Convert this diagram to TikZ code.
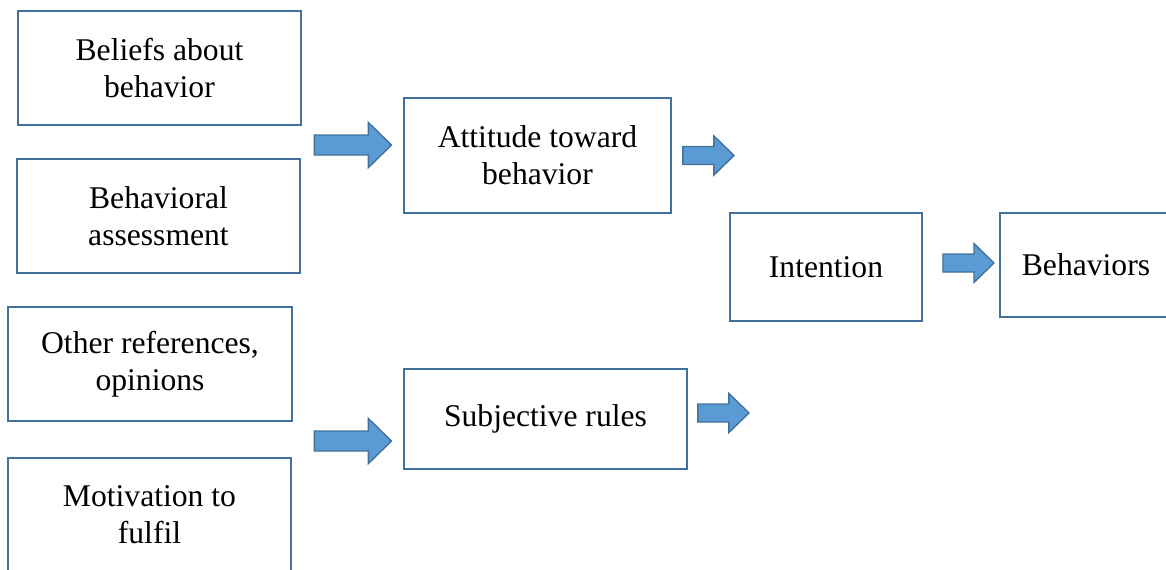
\documentclass[tikz,border=0pt]{standalone}
\usepackage{fontspec}
\setmainfont{Liberation Serif}
\usetikzlibrary{calc}
\definecolor{boxline}{RGB}{65,113,156}
\definecolor{arrowfill}{RGB}{91,155,213}

\begin{document}
\begin{tikzpicture}[x=0.02cm,y=-0.02cm,
  box/.style={draw=boxline,line width=1.1pt,align=center,inner sep=0pt,
    font=\fontsize{18}{21}\selectfont},
  pics/bigarrow/.style={code={
    \draw[boxline,fill=arrowfill,line width=0.8pt,line join=miter]
      (0,-10) -- (54,-10) -- (54,-22.5) -- (77,0) -- (54,22.5) -- (54,10) -- (0,10) -- cycle;}},
  pics/smallarrow/.style={code={
    \draw[boxline,fill=arrowfill,line width=0.8pt,line join=miter]
      (0,-9) -- (31,-9) -- (31,-19.5) -- (51,0) -- (31,19.5) -- (31,9) -- (0,9) -- cycle;}}]
%\tikzstyle{every node}=[fill=white]
  \useasboundingbox (0,0) rectangle (1166,569);
  \clip (0,0) rectangle (1166,569);

  \node[box,minimum width=5.66cm,minimum height=2.28cm] (beliefs)    at (159.5,68)  {Beliefs about\\behavior};
  \node[box,minimum width=5.66cm,minimum height=2.28cm] (assess)     at (158.5,216) {Behavioral\\assessment};
  \node[box,minimum width=5.68cm,minimum height=2.28cm] (others)     at (150,364)   {Other references,\\opinions};
  \node[box,minimum width=5.66cm,minimum height=2.28cm] (motiv)      at (149.5,515) {Motivation to\\fulfil};
  \node[box,minimum width=5.34cm,minimum height=2.30cm] (attitude)   at (537.5,155.5) {Attitude toward\\behavior};
  \node[box,minimum width=5.66cm,minimum height=2.00cm] (subjective) at (545.5,419) {Subjective rules};
  \node[box,minimum width=3.84cm,minimum height=2.16cm] (intention)  at (826,267)   {Intention};
  \node[box,minimum width=3.44cm,minimum height=2.08cm] (behaviors)  at (1086,265)  {Behaviors};

  \pic at ($(beliefs.south east)!0.5!(assess.north east)+(13,3)$) {bigarrow};
  \pic at ($(others.south east)!0.5!(motiv.north east)+(22,1.5)$) {bigarrow};
  \pic at ($(attitude.east)+(11,0)$)    {smallarrow};
  \pic at ($(intention.east)+(20,-4)$)  {smallarrow};
  \pic at ($(subjective.east)+(10,-6)$) {smallarrow};
\end{tikzpicture}
\end{document}
